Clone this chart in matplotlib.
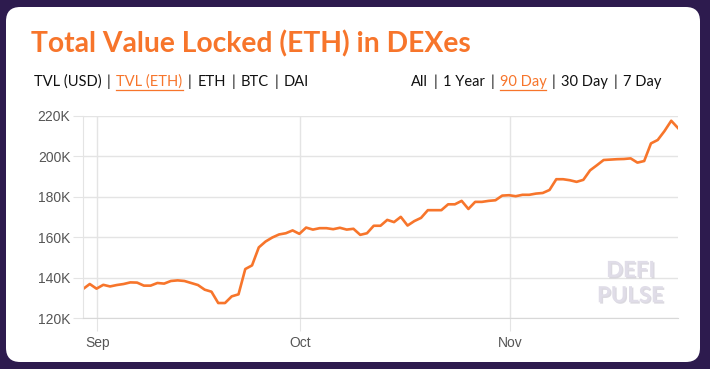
"""Total Value Locked (ETH) in DEXes - DeFi Pulse style chart"""

import matplotlib
matplotlib.use('Agg')
import matplotlib.pyplot as plt
import matplotlib.patheffects as pe
from matplotlib.patches import FancyBboxPatch
import pandas as pd

# daily TVL in ETH (thousands)
tvl_eth_k = [
    134.3, 136.8, 134.5, 136.4, 135.6, 136.3, 136.8, 137.6, 137.5, 136.0,
    136.0, 137.3, 137.0, 138.3, 138.6, 138.3, 137.3, 136.3, 134.0, 133.0,
    127.4, 127.4, 130.7, 131.7, 144.2, 146.0, 154.9, 157.8, 159.8, 161.3,
    161.9, 163.3, 161.6, 164.7, 163.7, 164.4, 164.4, 163.9, 164.6, 163.7,
    164.1, 161.1, 161.9, 165.6, 165.6, 168.5, 167.4, 170.0, 165.7, 167.9,
    169.5, 173.3, 173.3, 173.3, 176.2, 176.2, 177.9, 173.9, 177.4, 177.4,
    177.9, 178.2, 180.5, 180.7, 180.2, 180.9, 180.9, 181.5, 181.8, 183.3,
    188.6, 188.6, 188.1, 187.3, 188.3, 193.0, 195.5, 198.1, 198.3, 198.5,
    198.6, 198.9, 196.8, 197.6, 206.3, 208.0, 212.4, 217.5, 213.9,
]
dates = pd.date_range('2020-08-29 21:00', periods=len(tvl_eth_k), freq='D')

y_ticks = [120, 140, 160, 180, 200, 220]
x_ticks = ['2020-09-01', '2020-10-01', '2020-11-01']
x_tick_labels = ['Sep', 'Oct', 'Nov']

left_tabs = ['TVL (USD)', 'TVL (ETH)', 'ETH', 'BTC', 'DAI']
right_tabs = ['All', '1 Year', '90 Day', '30 Day', '7 Day']

ORANGE = '#f7752b'
PURPLE = '#2d1b4e'
GRID = '#e4e4e4'
TXT = '#555555'


def draw_tabs(fig, renderer, labels, active, x0, y, align='left'):
    """Draws a row of tab labels separated by bars"""
    pieces = []
    for i, lab in enumerate(labels):
        if i > 0:
            pieces.append(('|', '#111111', False))
        if lab == active:
            pieces.append((lab, ORANGE, True))
        else:
            pieces.append((lab, '#111111', False))
    gap = 5.5  # px either side of a bar
    texts = []
    x = 0
    for s, c, underline in pieces:
        t = fig.text(x, y, s, color=c, fontsize=10.5, family='Lato',
                     ha='left', va='center', transform=None)
        bb = t.get_window_extent(renderer)
        w = bb.width + (2 * gap if s == '|' else 0)
        texts.append((t, bb.width, underline, s == '|'))
        x += w
    total = x
    start = x0 - total if align == 'right' else x0
    x = start
    for t, w, underline, is_bar in texts:
        if is_bar:
            x += gap
        t.set_position((x, y))
        if underline:
            fig.add_artist(plt.Line2D([x, x + w], [y - 8, y - 8], color=ORANGE,
                                      lw=0.9, transform=None))
        x += w
        if is_bar:
            x += gap


def plot_tvl():
    fig = plt.figure(figsize=(7.1, 3.69), dpi=100)
    fig.patch.set_facecolor(PURPLE)
    card = FancyBboxPatch((6 / 710, 7 / 369), 694 / 710, 355 / 369,
                          boxstyle='round,pad=0,rounding_size=0.02',
                          transform=fig.transFigure, facecolor='white',
                          edgecolor='none', mutation_aspect=710 / 369,
                          zorder=-10)
    fig.add_artist(card)

    fig.text(31 / 710, 1 - 44 / 369, 'Total Value Locked (ETH) in DEXes',
             color=ORANGE, fontsize=20.3, fontweight='bold', family='Lato',
             ha='left', va='center')

    ax = fig.add_axes([83 / 710, 1 - 318 / 369, 595 / 710, 202.3 / 369])
    ax.set_facecolor('white')
    ax.plot(dates, tvl_eth_k, color=ORANGE, lw=1.9, solid_joinstyle='round')
    ax.set_xlim(dates[0], dates[-1])
    ax.set_ylim(120, 220)
    ax.set_yticks(y_ticks)
    ax.set_yticklabels(['%dK' % v for v in y_ticks])
    ax.set_xticks(pd.to_datetime(x_ticks))
    ax.set_xticklabels(x_tick_labels)
    ax.grid(True, color=GRID, lw=1)
    ax.set_axisbelow(True)
    for side in ['top', 'right']:
        ax.spines[side].set_visible(False)
    ax.spines['left'].set_color(GRID)
    ax.spines['bottom'].set_color('#d8d8d8')
    ax.tick_params(axis='y', length=7, color=GRID, labelsize=10, labelcolor=TXT, pad=2)
    ax.tick_params(axis='x', length=9, color=GRID, labelsize=10, labelcolor=TXT, pad=4)
    for lab in ax.get_xticklabels() + ax.get_yticklabels():
        lab.set_family('Liberation Sans')

    # watermark
    for i, word in enumerate(['DEFI', 'PULSE']):
        ax.text(0.92, 0.235 - i * 0.125, word, transform=ax.transAxes,
                fontsize=16, fontweight='bold', family='Lato', color='#e0dde8',
                ha='center', va='center',
                path_effects=[pe.withSimplePatchShadow(offset=(1, -1),
                                                       shadow_rgbFace='#c4c1cc',
                                                       alpha=0.6)])

    renderer = fig.canvas.get_renderer()
    draw_tabs(fig, renderer, left_tabs, 'TVL (ETH)', 34, 369 - 82)
    draw_tabs(fig, renderer, right_tabs, '90 Day', 661, 369 - 82, align='right')

    plt.savefig('out.png', dpi=100, facecolor=PURPLE)


if __name__ == "__main__":
    plot_tvl()
